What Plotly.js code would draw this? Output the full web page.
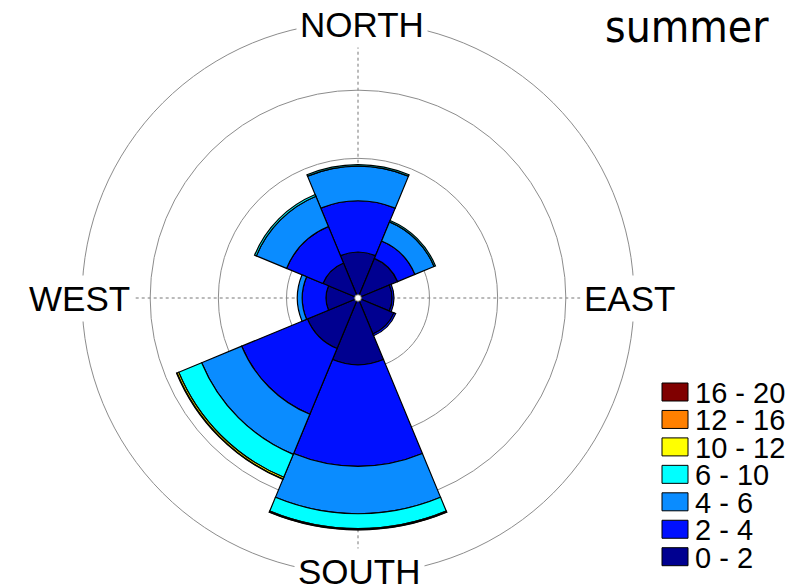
<!DOCTYPE html>
<html>
<head>
<meta charset="utf-8">
<script src="https://cdn.plot.ly/plotly-3.0.1.min.js"></script>
<style>html,body{margin:0;padding:0;background:#fff;}#chart{width:812px;height:588px;}</style>
</head>
<body>
<div id="chart"></div>
<script>
// Wind directions (degrees, clockwise from north)
var directions = [0, 45, 90, 135, 180, 225, 270, 315];
var dirLabels = ['NORTH', 'EAST', 'SOUTH', 'WEST'];
// Speed bins (frequency, %), per direction
var binLabels = ['0 - 2', '2 - 4', '4 - 6', '6 - 10', '10 - 12', '12 - 16', '16 - 20'];
var bin0_2   = [3.12, 2.90, 2.25, 2.61, 4.64, 3.77, 2.10, 2.54];
var bin2_4   = [3.77, 1.38, 0.14, 0.14, 7.46, 5.22, 1.74, 2.89];
var bin4_6   = [2.54, 1.52, 0.00, 0.00, 3.48, 3.18, 0.36, 2.40];
var bin6_10  = [0.11, 0.11, 0.00, 0.00, 1.09, 1.82, 0.00, 0.14];
var bin10_12 = [0.00, 0.00, 0.00, 0.00, 0.07, 0.14, 0.00, 0.00];
var bin12_16 = [0.00, 0.00, 0.00, 0.00, 0.03, 0.03, 0.00, 0.00];
var bin16_20 = [0.00, 0.00, 0.00, 0.00, 0.00, 0.00, 0.00, 0.00];
var ringValues = [5, 10, 15];
var maxRadius = 20;
var title = 'summer';

var binValues = [bin0_2, bin2_4, bin4_6, bin6_10, bin10_12, bin12_16, bin16_20];
var binColors = ['#000090', '#0010FF', '#0A8CFF', '#00FFFF', '#FFFF00', '#FF8000', '#800000'];

var traces = binValues.map(function (vals, i) {
  return {
    type: 'barpolar',
    r: vals,
    theta: directions,
    width: 45,
    name: binLabels[i],
    marker: { color: binColors[i], line: { color: '#000', width: 1.2 } },
    showlegend: false,
    hoverinfo: 'none'
  };
});

// pixel helpers
var W = 812, H = 588;
function px(x) { return x / W; }
function py(y) { return 1 - y / H; }

var annotations = [];
var shapes = [];
// direction labels
var labelPos = [[362, 25], [629, 298], [359, 571], [79, 298]];
dirLabels.forEach(function (t, i) {
  annotations.push({
    text: t, xref: 'paper', yref: 'paper',
    x: px(labelPos[i][0]), y: py(labelPos[i][1]),
    xanchor: 'center', yanchor: 'middle', showarrow: false,
    bgcolor: '#fff', borderpad: 3,
    font: { family: 'Liberation Sans, Arial, sans-serif', size: 35, color: '#000' }
  });
});
// title
annotations.push({
  text: title, xref: 'paper', yref: 'paper',
  x: px(687), y: py(26), xanchor: 'center', yanchor: 'middle', showarrow: false,
  font: { family: 'DejaVu Sans Condensed, DejaVu Sans, sans-serif', size: 44, color: '#000' }
});
// custom legend (top: highest bin)
for (var k = 0; k < binLabels.length; k++) {
  var idx = binLabels.length - 1 - k;
  var cy = 392 + k * 27.45;
  shapes.push({
    type: 'rect', xref: 'paper', yref: 'paper',
    x0: px(662), x1: px(688), y0: py(cy - 9), y1: py(cy + 9),
    fillcolor: binColors[idx], line: { color: '#000', width: 1 }
  });
  annotations.push({
    text: binLabels[idx], xref: 'paper', yref: 'paper',
    x: px(694), y: py(cy + 1), xanchor: 'left', yanchor: 'middle', showarrow: false,
    height: 26, borderpad: 0, valign: 'middle',
    font: { family: 'Liberation Sans, Arial, sans-serif', size: 29, color: '#000' }
  });
}

var layout = {
  width: W, height: H,
  margin: { l: 0, r: 0, t: 0, b: 0 },
  paper_bgcolor: '#fff',
  showlegend: false,
  polar: {
    domain: { x: [px(82), px(634)], y: [py(574), py(22)] },
    bgcolor: 'rgba(0,0,0,0)',
    hole: 0.012,
    barmode: 'stack',
    radialaxis: {
      range: [0, maxRadius],
      tickvals: ringValues,
      showticklabels: false,
      ticks: '',
      showline: false,
      gridcolor: '#8c8c8c',
      gridwidth: 1
    },
    angularaxis: {
      rotation: 90,
      direction: 'clockwise',
      tickvals: [0, 90, 180, 270],
      showticklabels: false,
      ticks: '',
      showline: true,
      linecolor: '#8c8c8c',
      linewidth: 1,
      gridcolor: '#777',
      griddash: 'dot',
      gridwidth: 1
    }
  },
  annotations: annotations,
  shapes: shapes
};

Plotly.newPlot('chart', traces, layout, { staticPlot: true });
</script>
</body>
</html>
